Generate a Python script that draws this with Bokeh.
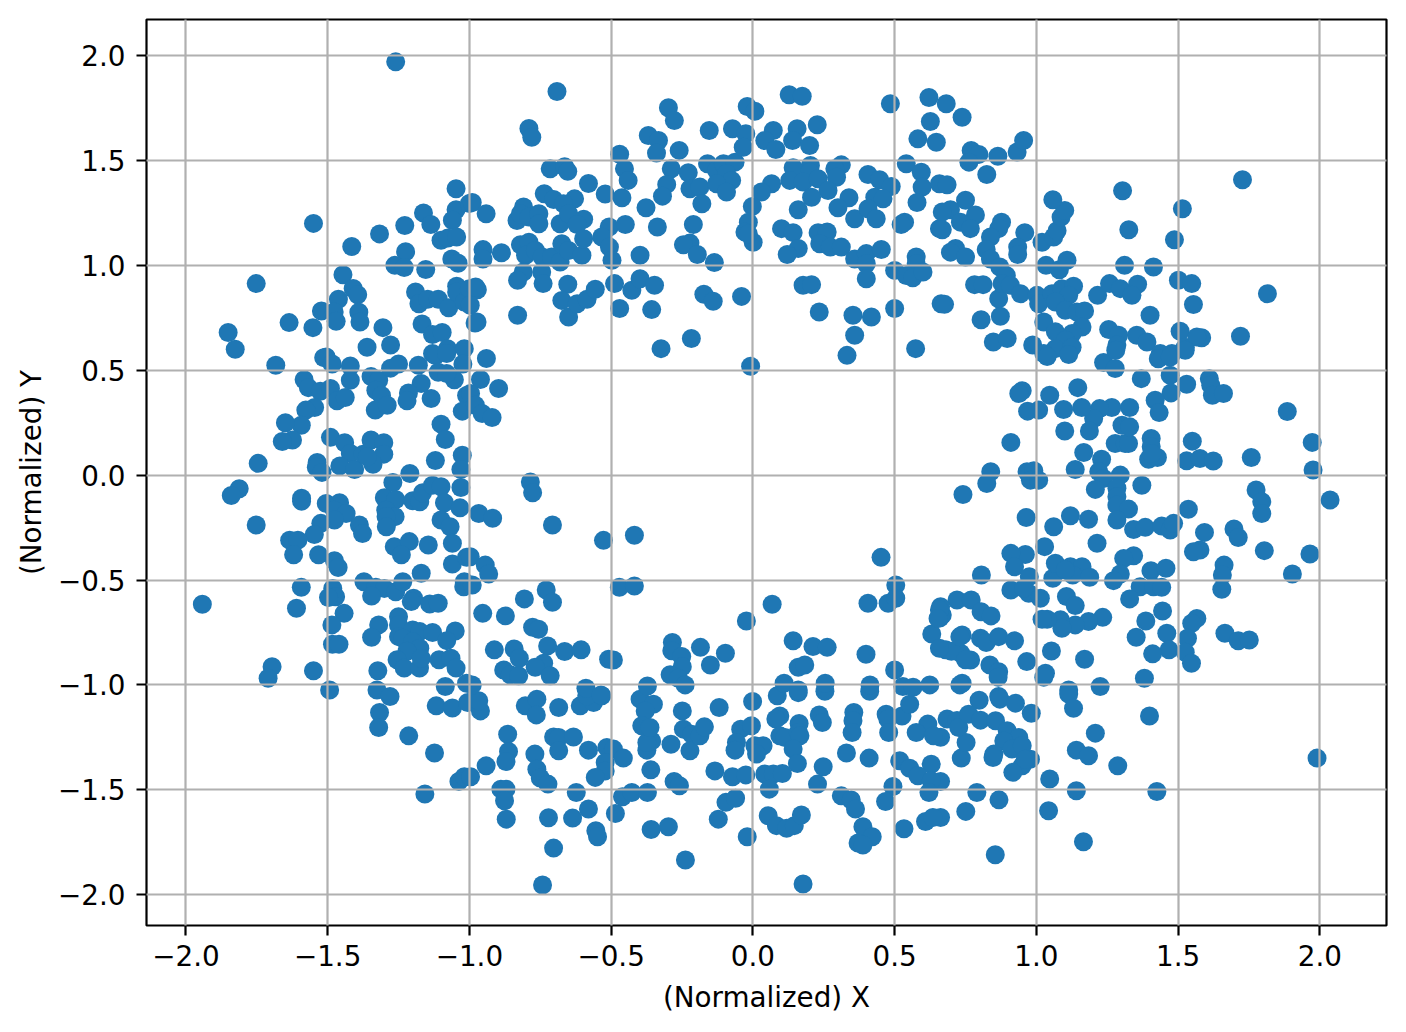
from bokeh.plotting import figure
from bokeh.embed import file_html
from bokeh.resources import INLINE
from bokeh.models import Range1d, FixedTicker

points_upper_left = [
(-1.26,1.97),(-1.55,1.20),(-1.415,1.09),(-1.317,1.15),(-1.228,1.19),(-1.162,1.25),(-1.136,1.195),(-1.047,1.365),(-1.047,1.265),(-1.0,1.295),
(-1.06,1.215),(-1.1,1.12),(-1.076,1.13),(-1.045,1.135),(-1.225,1.065),(-1.263,1.0),(-1.23,0.99),(-1.154,0.98),(-1.062,1.03),(-1.04,1.01),
(-1.752,0.913),(-1.446,0.955),(-1.41,0.89),(-1.394,0.86),(-1.462,0.838),(-1.522,0.782),(-1.477,0.778),(-1.47,0.733),(-1.39,0.776),(-1.386,0.73),
(-1.636,0.727),(-1.552,0.703),(-1.305,0.703),(-1.851,0.68),(-1.826,0.60),(-1.505,0.563),(-1.361,0.61),(-1.278,0.62),(-1.19,0.873),(-1.178,0.817),
(-1.147,0.838),(-1.11,0.838),(-1.073,0.798),(-1.045,0.90),(-1.045,0.873),(-1.018,0.825),(-1.0,0.889),(-1.167,0.72),(-1.13,0.67),(-1.096,0.68),
(-1.077,0.603),(-1.018,0.603),(-1.13,0.58),(-0.98,0.725),(-1.683,0.524),(-1.514,0.56),(-1.484,0.53),(-1.42,0.52),(-1.42,0.452),(-1.583,0.455),
(-1.568,0.417),(-1.526,0.40),(-1.49,0.413),(-1.467,0.354),(-1.438,0.37),(-1.347,0.47),(-1.32,0.452),(-1.33,0.405),(-1.31,0.38),(-1.332,0.31),
(-1.29,0.333),(-1.278,0.51),(-1.25,0.53),(-1.18,0.524),(-1.12,0.57),(-1.08,0.58),(-1.023,0.53),(-1.11,0.49),(-1.053,0.455),(-1.08,0.484),
(-1.17,0.437),(-1.215,0.392),(-1.22,0.354),(-1.135,0.365),(-1.01,0.38),(-1.025,0.305),(-1.546,0.322),(-1.577,0.31),(-1.593,0.238),(-1.649,0.25),
(-1.624,0.167),(-1.66,0.16),(-1.745,0.056),(-1.537,0.06),(-1.54,0.037),(-1.52,0.013),(-1.49,0.18),(-1.44,0.154),(-1.42,0.103),(-1.457,0.044),
(-1.405,0.027),(-1.375,0.10),(-1.347,0.167),(-1.302,0.154),(-1.302,0.10),(-1.34,0.052),(-1.36,0.087),(-1.21,0.008),(-1.12,0.07),(-1.1,0.243),
(-1.085,0.17),(-1.025,0.095),(-1.03,0.027),
]
points_lower_left = [
(-1.27,-0.035),(-1.3,-0.108),(-1.26,-0.116),(-1.295,-0.167),(-1.262,-0.198),(-1.294,-0.198),(-1.293,-0.246),(-1.2,-0.122),(-1.175,-0.127),(-1.165,-0.084),
(-1.13,-0.048),(-1.1,-0.055),(-1.03,-0.059),(-1.088,-0.132),(-1.033,-0.156),(-1.1,-0.214),(-1.068,-0.246),(-1.06,-0.325),(-1.592,-0.11),(-1.592,-0.124),
(-1.812,-0.065),(-1.84,-0.097),(-1.752,-0.238),(-1.505,-0.135),(-1.458,-0.132),(-1.476,-0.167),(-1.435,-0.183),(-1.476,-0.214),(-1.524,-0.23),(-1.388,-0.238),
(-1.377,-0.278),(-1.547,-0.283),(-1.634,-0.31),(-1.605,-0.31),(-1.62,-0.38),(-1.532,-0.38),(-1.476,-0.408),(-1.463,-0.44),(-1.265,-0.341),(-1.212,-0.317),
(-1.24,-0.38),(-1.145,-0.333),(-1.17,-0.468),(-1.06,-0.424),(-1.01,-0.392),(-1.372,-0.508),(-1.33,-0.535),(-1.3,-0.54),(-1.26,-0.556),(-1.345,-0.576),
(-1.235,-0.508),(-1.482,-0.54),(-1.472,-0.58),(-1.497,-0.583),(-1.593,-0.535),(-1.61,-0.635),(-1.942,-0.616),(-1.442,-0.659),(-1.485,-0.714),(-1.483,-0.806),
(-1.46,-0.806),(-1.197,-0.587),(-1.205,-0.603),(-1.14,-0.614),(-1.11,-0.611),(-1.018,-0.508),(-1.02,-0.532),(-1.25,-0.675),(-1.32,-0.714),(-1.345,-0.773),
(-1.25,-0.714),(-1.25,-0.77),(-1.2,-0.738),(-1.175,-0.746),(-1.13,-0.75),(-1.05,-0.743),(-1.08,-0.789),(-1.235,-0.778),(-1.2,-0.794),(-1.175,-0.825),
(-1.22,-0.84),(-1.255,-0.88),(-1.23,-0.92),(-1.176,-0.92),(-1.17,-0.873),(-1.107,-0.88),(-1.065,-0.873),(-1.047,-0.92),(-1.323,-0.933),(-1.55,-0.933),
(-1.696,-0.913),(-1.71,-0.968),(-1.493,-1.024),(-1.326,-1.024),(-1.28,-1.055),(-1.085,-1.008),(-1.01,-0.992),(-1.317,-1.132),(-1.32,-1.203),(-1.214,-1.243),
(-1.123,-1.325),(-1.117,-1.1),(-1.06,-1.11),(-1.006,-1.084),(-1.157,-1.52),(-1.037,-1.46),(-1.018,-1.438),
]
points_top = [
(-0.691,1.829),(-0.79,1.652),(-0.78,1.611),(-0.715,1.46),(-0.664,1.47),(-0.653,1.448),(-0.58,1.39),(-0.521,1.34),(-0.47,1.53),(-0.453,1.46),
(-0.44,1.405),(-0.462,1.322),(-0.99,1.30),(-0.941,1.246),(-0.809,1.278),(-0.736,1.341),(-0.703,1.314),(-0.629,1.317),(-0.668,1.294),(-0.832,1.214),
(-0.82,1.246),(-0.79,1.23),(-0.755,1.246),(-0.755,1.198),(-0.68,1.198),(-0.65,1.246),(-0.597,1.22),(-0.62,1.195),(-0.507,1.183),(-0.45,1.195),
(-0.377,1.275),(-0.337,1.183),(-0.298,1.751),(-0.277,1.69),(-0.369,1.619),(-0.333,1.595),(-0.26,1.548),(-0.34,1.535),(-0.288,1.46),(-0.228,1.441),
(-0.304,1.386),(-0.319,1.33),(-0.222,1.365),(-0.187,1.373),(-0.18,1.294),(-0.21,1.195),(-0.222,1.106),(-0.245,1.098),(-0.196,1.052),(-0.136,1.013),
(-0.154,1.643),(-0.16,1.484),(-0.128,1.452),(-0.104,1.484),(-0.063,1.492),(-0.093,1.437),(-0.075,1.405),(-0.128,1.389),(-0.093,1.35),(-0.072,1.651),
(-0.025,1.627),(-0.034,1.563),(-0.02,1.757),(0.007,1.735),(0.128,1.813),(0.174,1.806),(0.227,1.67),(0.156,1.651),(0.14,1.595),(0.072,1.643),
(0.042,1.595),(0.081,1.552),(0.2,1.571),(0.142,1.465),(0.203,1.476),(0.2,1.444),(0.312,1.479),(0.289,1.46),(0.13,1.405),(0.177,1.397),
(0.23,1.413),(0.295,1.42),(0.265,1.357),(0.207,1.325),(0.066,1.389),(0.03,1.35),(-0.002,1.281),(0.16,1.265),(-0.016,1.206),(-0.028,1.159),
(0.001,1.11),(-0.016,1.15),(0.101,1.175),(0.142,1.156),(0.16,1.08),(0.121,1.052),(0.23,1.156),(0.262,1.159),(0.236,1.103),(0.273,1.087),
(0.312,1.087),(0.177,0.905),(0.207,0.908),(0.234,0.778),(-0.04,0.852),(-0.173,0.862),(-0.14,0.829),(0.339,1.322),(0.406,1.433),(0.447,1.408),
(0.488,1.376),(0.3,1.275),(0.359,1.222),(0.43,1.325),(0.459,1.317),(0.406,1.27),(0.435,1.222),(0.485,1.77),(0.541,1.484),(0.594,1.444),
(0.597,1.373),(0.579,1.30),(0.535,1.206),(0.523,1.195),(0.621,1.80),(0.626,1.686),(0.582,1.603),(0.647,1.587),(0.658,1.389),(0.359,1.03),
(0.4,1.056),(0.453,1.076),(0.4,1.008),(0.4,0.936),(0.353,0.762),(0.418,0.754),(0.359,0.667),(0.5,0.794),(0.5,0.976),(0.576,1.04),
(0.576,1.008),(0.541,0.952),(0.564,0.941),(0.6,0.968),(0.332,0.571),(0.574,0.603),(-0.217,0.651),(-0.324,0.603),(0.664,0.817),(0.658,1.175),
(-0.952,1.075),(-0.952,1.03),(-0.887,1.06),(-0.82,1.098),(-0.79,1.11),(-0.802,1.048),(-0.767,1.071),(-0.743,1.04),(-0.81,0.968),(-0.83,0.929),
(-0.745,0.968),(-0.74,0.913),(-0.71,1.04),(-0.68,1.016),(-0.674,1.103),(-0.65,1.071),(-0.603,1.048),(-0.597,1.127),(-0.533,1.135),(-0.506,1.087),
(-0.497,1.024),(-0.398,1.048),(-0.653,0.91),(-0.674,0.833),(-0.65,0.754),(-0.62,0.817),(-0.585,0.838),(-0.556,0.886),(-0.83,0.762),(-0.488,0.913),
(-0.427,0.881),(-0.398,0.936),(-0.347,0.905),(-0.47,0.794),(-0.357,0.789),(-0.972,0.884),(-0.978,0.897),(-0.997,0.81),(-0.973,0.73),(-0.94,0.556),
(-0.961,0.456),(-0.897,0.413),(-0.996,0.389),(-0.979,0.333),(-0.955,0.294),(-0.92,0.275),(-0.008,0.519),
]
points_upper_right = [
(0.682,1.77),(0.738,1.706),(0.77,1.548),(0.797,1.529),(0.762,1.492),(0.864,1.52),(0.932,1.54),(0.955,1.595),(0.825,1.433),(0.685,1.384),
(0.75,1.31),(0.697,1.265),(0.668,1.254),(0.785,1.24),(0.732,1.206),(0.767,1.175),(0.668,1.17),(0.877,1.206),(0.867,1.175),(0.838,1.135),
(0.959,1.156),(0.934,1.087),(0.934,1.052),(0.823,1.075),(0.715,1.08),(0.697,1.063),(0.75,1.04),(0.838,1.03),(0.871,0.992),(0.894,0.952),
(1.02,1.11),(1.061,1.135),(1.073,1.165),(1.087,1.23),(1.1,1.262),(1.058,1.313),(1.034,1.0),(1.081,0.979),(1.108,1.024),(0.782,0.908),
(0.812,0.908),(0.867,0.841),(0.676,0.814),(0.873,0.757),(0.805,0.741),(0.848,0.635),(0.897,0.651),(0.987,0.62),(0.879,0.913),(0.908,0.905),
(0.944,0.865),(1.002,0.857),(1.008,0.817),(1.055,0.865),(1.09,0.889),(1.131,0.9),(1.114,0.857),(1.067,0.825),(1.102,0.786),(1.143,0.778),
(1.17,0.782),(1.026,0.73),(1.067,0.683),(1.161,0.706),(1.126,0.675),(1.102,0.643),(1.067,0.603),(1.126,0.61),(1.026,0.58),(1.216,0.857),
(1.258,0.913),(1.296,0.889),(1.357,0.91),(1.337,0.857),(1.311,1.0),(1.413,0.992),(1.304,1.356),(1.326,1.17),(1.401,0.762),(1.255,0.694),
(1.29,0.667),(1.354,0.667),(1.39,0.635),(1.284,0.62),(1.507,0.686),(1.525,0.61),(1.478,0.58),(1.437,0.58),(1.501,0.929),(1.548,0.913),
(1.554,0.813),(1.515,1.27),(1.487,1.122),(1.727,1.408),(1.815,0.865),(1.72,0.662),(1.583,0.655),(1.566,0.659),(1.237,0.537),(1.278,0.508),
(1.28,0.595),(1.37,0.46),(1.43,0.555),(1.472,0.563),(1.525,0.595),(1.472,0.476),(1.53,0.433),(1.475,0.392),(1.419,0.357),(1.433,0.298),
(1.61,0.46),(1.615,0.429),(1.621,0.381),(1.66,0.389),(1.885,0.303),(1.973,0.156),(1.976,0.024),(1.758,0.084),(1.55,0.162),(1.53,0.068),
(1.577,0.079),(1.624,0.067),(1.405,0.175),(1.405,0.135),(1.396,0.076),(1.427,0.084),(1.407,0.103),(1.278,0.151),(1.313,0.151),(1.325,0.151),
(1.302,0.238),(1.329,0.23),(1.329,0.322),(1.266,0.322),(1.223,0.317),(1.202,0.27),(1.187,0.21),(1.16,0.322),(1.1,0.21),(1.096,0.313),
(1.146,0.417),(1.047,0.381),(0.95,0.402),(0.938,0.389),(1.008,0.31),(0.969,0.305),(0.91,0.156),(0.839,0.016),(0.967,0.016),(0.991,0.021),
(1.137,0.027),(1.167,0.108),(1.23,0.076),(1.22,0.016),(1.296,0.0),(1.038,0.565),(1.114,0.575),
]
points_lower_right = [
(2.036,-0.119),(0.825,-0.04),(0.741,-0.092),(0.979,-0.024),(1.008,-0.024),(1.237,-0.016),(1.208,-0.068),(1.284,-0.063),(1.372,-0.048),(1.284,-0.103),
(1.284,-0.143),(1.325,-0.162),(1.284,-0.214),(1.536,-0.163),(0.964,-0.202),(1.061,-0.246),(1.12,-0.194),(1.184,-0.21),(1.343,-0.259),(1.384,-0.249),
(1.442,-0.243),(1.472,-0.262),(1.484,-0.23),(1.593,-0.273),(1.697,-0.257),(1.712,-0.297),(1.775,-0.071),(1.795,-0.127),(1.795,-0.183),(1.804,-0.36),
(1.965,-0.376),(1.903,-0.471),(1.577,-0.357),(1.554,-0.365),(1.662,-0.429),(1.656,-0.476),(1.654,-0.544),(1.214,-0.325),(1.343,-0.384),(1.308,-0.397),
(1.296,-0.471),(1.272,-0.503),(1.404,-0.456),(1.457,-0.444),(1.366,-0.532),(1.413,-0.532),(1.442,-0.535),(1.329,-0.59),(1.029,-0.341),(0.961,-0.378),
(0.91,-0.373),(0.923,-0.437),(0.806,-0.476),(0.975,-0.484),(1.058,-0.492),(1.067,-0.42),(1.12,-0.437),(1.161,-0.437),(1.128,-0.476),(1.102,-0.452),
(1.188,-0.487),(0.91,-0.548),(0.973,-0.563),(1.014,-0.587),(0.955,-0.54),(1.106,-0.579),(1.137,-0.622),(1.234,-0.678),(1.184,-0.698),(1.137,-0.714),
(1.085,-0.69),(1.09,-0.73),(1.038,-0.687),(1.02,-0.687),(1.445,-0.648),(1.386,-0.695),(1.566,-0.683),(1.548,-0.706),(1.46,-0.754),(1.533,-0.778),
(1.352,-0.773),(1.665,-0.754),(1.712,-0.79),(1.751,-0.786),(1.468,-0.833),(1.41,-0.852),(1.525,-0.844),(1.547,-0.897),(0.72,-0.595),(0.77,-0.595),
(0.805,-0.651),(0.84,-0.671),(0.668,-0.667),(0.662,-0.627),(0.738,-0.762),(0.803,-0.778),(0.823,-0.798),(0.867,-0.77),(0.923,-0.79),(0.68,-0.833),
(0.733,-0.849),(0.768,-0.881),(0.836,-0.905),(0.867,-0.937),(0.865,-0.963),(0.966,-0.889),(1.053,-0.838),(1.17,-0.878),(1.032,-0.944),(1.026,-0.963),
(1.381,-0.968),(0.738,-0.992),(1.225,-1.008),(1.114,-1.024),(0.867,-1.055),(0.798,-1.073),(0.871,-1.068),(0.926,-1.087),(0.982,-1.135),(1.114,-1.044),
(1.131,-1.111),(1.399,-1.148),(1.208,-1.23),(1.141,-1.311),(1.184,-1.338),(1.287,-1.386),(1.047,-1.449),(1.141,-1.505),(1.425,-1.508),(1.99,-1.349),
(1.043,-1.6),(1.166,-1.748),(0.855,-1.81),(0.79,-1.513),(0.868,-1.548),(0.751,-1.603),(0.662,-1.632),(0.662,-1.46),(0.735,-1.349),(0.662,-1.25),
(0.752,-1.275),(0.685,-1.163),(0.72,-1.17),(0.726,-1.203),(0.761,-1.14),(0.803,-1.168),(0.856,-1.171),(0.897,-1.219),(0.938,-1.251),(0.885,-1.267),
(0.914,-1.306),(0.95,-1.29),(0.979,-1.354),(0.95,-1.386),(0.917,-1.417),(0.961,-1.354),(0.85,-1.33),(0.847,-1.346),(0.7,-0.84),(0.66,-0.68),
(0.75,-0.88),(0.73,-1.0),(0.73,-0.77),
]
points_bottom = [
(-0.961,-1.124),(-0.967,-1.076),(-0.803,-1.1),(-0.762,-1.068),(-0.764,-1.143),(-0.685,-1.108),(-0.609,-1.1),(-0.562,-1.084),(-0.533,-1.052),(-0.586,-1.052),
(-0.398,-1.068),(-0.351,-1.092),(-0.38,-1.124),(-0.249,-1.124),(-0.119,-1.108),(-0.001,-1.079),(0.086,-1.052),(0.16,-1.037),(0.254,-1.03),(0.412,-1.03),
(0.234,-1.143),(0.245,-1.179),(0.095,-1.148),(0.081,-1.163),(0.163,-1.184),(0.356,-1.132),(0.353,-1.171),(0.35,-1.227),(0.47,-1.14),(0.476,-1.163),
(0.479,-1.227),(0.526,-1.148),(0.553,-1.092),(0.617,-1.187),(0.576,-1.227),(0.637,-1.243),(0.518,-1.362),(0.553,-1.397),(0.629,-1.378),(0.582,-1.433),
(0.494,-1.484),(0.468,-1.556),(0.629,-1.457),(0.621,-1.513),(0.533,-1.686),(0.609,-1.651),(0.635,-1.632),(-0.865,-1.235),(-0.862,-1.317),(-0.871,-1.365),
(-0.941,-1.386),(-0.996,-1.438),(-0.889,-1.497),(-0.871,-1.497),(-0.876,-1.552),(-0.87,-1.64),(-0.769,-1.33),(-0.762,-1.402),(-0.75,-1.444),(-0.723,-1.473),
(-0.703,-1.248),(-0.685,-1.251),(-0.685,-1.314),(-0.633,-1.248),(-0.58,-1.311),(-0.515,-1.298),(-0.492,-1.306),(-0.457,-1.349),(-0.521,-1.37),(-0.521,-1.41),
(-0.556,-1.441),(-0.623,-1.513),(-0.58,-1.592),(-0.636,-1.635),(-0.721,-1.633),(-0.703,-1.778),(-0.742,-1.954),(-0.554,-1.695),(-0.548,-1.724),(-0.485,-1.613),
(-0.46,-1.533),(-0.427,-1.513),(-0.372,-1.513),(-0.359,-1.689),(-0.298,-1.676),(-0.238,-1.835),(-0.278,-1.46),(-0.259,-1.481),(-0.36,-1.405),(-0.374,-1.311),
(-0.357,-1.267),(-0.374,-1.275),(-0.289,-1.283),(-0.392,-1.195),(-0.363,-1.203),(-0.245,-1.211),(-0.216,-1.235),(-0.222,-1.314),(-0.187,-1.243),(-0.171,-1.2),
(-0.134,-1.41),(-0.072,-1.438),(-0.025,-1.429),(-0.095,-1.56),(-0.061,-1.54),(-0.122,-1.64),(-0.02,-1.724),(-0.043,-1.211),(-0.005,-1.195),(-0.058,-1.275),
(-0.063,-1.311),(0.007,-1.29),(0.036,-1.29),(0.013,-1.33),(0.095,-1.243),(0.113,-1.251),(0.16,-1.227),(0.166,-1.243),(0.142,-1.306),(0.157,-1.375),
(0.042,-1.425),(0.072,-1.425),(0.104,-1.422),(0.058,-1.497),(0.054,-1.624),(0.083,-1.671),(0.119,-1.683),(0.146,-1.671),(0.171,-1.62),(0.177,-1.949),
(0.248,-1.39),(0.228,-1.473),(0.33,-1.325),(0.41,-1.349),(0.312,-1.529),(0.347,-1.549),(0.362,-1.592),(0.388,-1.676),(0.421,-1.724),(0.371,-1.754),
(0.388,-1.763),
]
points_inner_lower = [
(-0.785,-0.033),(-0.777,-0.084),(-0.967,-0.183),(-0.918,-0.206),(-0.707,-0.238),(-0.527,-0.311),(-0.418,-0.287),(0.452,-0.392),(-0.997,-0.389),(-0.944,-0.429),
(-0.932,-0.471),(-0.99,-0.524),(-0.471,-0.535),(-0.418,-0.529),(-0.729,-0.548),(-0.707,-0.606),(-0.806,-0.59),(-0.953,-0.659),(-0.873,-0.671),(-0.777,-0.725),
(-0.756,-0.735),(-0.912,-0.833),(-0.842,-0.829),(-0.824,-0.873),(-0.724,-0.814),(-0.664,-0.841),(-0.606,-0.833),(-0.509,-0.878),(-0.492,-0.881),(-0.738,-0.897),
(-0.768,-0.916),(-0.879,-0.929),(-0.856,-0.952),(-0.826,-0.957),(-0.715,-0.956),(-0.99,-1.0),(-0.589,-1.016),(-0.536,-1.048),(-0.372,-1.005),(-0.284,-0.798),
(-0.286,-0.837),(-0.251,-0.865),(-0.249,-0.913),(-0.292,-0.952),(-0.263,-0.968),(-0.239,-1.0),(-0.185,-0.821),(-0.097,-0.849),(-0.15,-0.905),(-0.023,-0.695),
(0.068,-0.616),(0.142,-0.79),(0.212,-0.817),(0.262,-0.821),(0.16,-0.916),(0.183,-0.905),(0.11,-0.992),(0.16,-1.024),(0.255,-0.992),(0.399,-0.854),
(0.413,-1.0),(0.5,-0.929),(0.529,-1.008),(0.565,-1.011),(0.624,-1.0),(0.406,-0.611),(0.477,-0.611),(0.504,-0.524),(0.504,-0.587),(0.631,-0.757),
(0.658,-0.643),(0.653,-0.683),(0.658,-0.825),
]
tick_values = [-2.0, -1.5, -1.0, -0.5, 0.0, 0.5, 1.0, 1.5, 2.0]
tick_labels = ["\u22122.0", "\u22121.5", "\u22121.0", "\u22120.5", "0.0", "0.5", "1.0", "1.5", "2.0"]
x_label = "(Normalized) X"
y_label = "(Normalized) Y"

all_points = (points_upper_left + points_lower_left + points_top + points_upper_right
              + points_lower_right + points_bottom + points_inner_lower)
xs = [a for a, b in all_points]
ys = [b for a, b in all_points]

p = figure(width=1398, height=1024, output_backend="svg", toolbar_location=None,
           x_range=Range1d(-2.139, 2.235), y_range=Range1d(-2.147, 2.172),
           min_border_left=146, min_border_right=12, min_border_top=19, min_border_bottom=99)
p.frame_width = 1240
p.frame_height = 906
p.background_fill_color = "white"
p.outline_line_color = "black"
p.outline_line_width = 2.2
p.outline_line_alpha = 1

p.scatter(xs, ys, size=19, fill_color="#1f77b4", line_color=None, marker="circle")

overrides = dict(zip(tick_values, tick_labels))
for ax, lab in ((p.xaxis[0], x_label), (p.yaxis[0], y_label)):
    ax.ticker = FixedTicker(ticks=tick_values)
    ax.major_label_overrides = overrides
    ax.minor_tick_line_color = None
    ax.major_tick_in = 0
    ax.major_tick_out = 10
    ax.major_tick_line_width = 2.2
    ax.major_tick_line_color = "black"
    ax.axis_line_color = None
    ax.major_label_text_font = "DejaVu Sans"
    ax.major_label_text_font_size = "27.8px"
    ax.major_label_text_color = "black"
    ax.axis_label = lab
    ax.axis_label_text_font = "DejaVu Sans"
    ax.axis_label_text_font_size = "27.8px"
    ax.axis_label_text_font_style = "normal"
    ax.axis_label_text_color = "black"
p.xaxis[0].major_label_standoff = 9
p.xaxis[0].axis_label_standoff = 12
p.yaxis[0].major_label_standoff = 11
p.yaxis[0].axis_label_standoff = 7
p.yaxis[0].major_label_orientation = "horizontal"

for g in (p.xgrid[0], p.ygrid[0]):
    g.grid_line_color = "#b0b0b0"
    g.grid_line_width = 2.2
    g.level = "annotation"
    g.ticker = FixedTicker(ticks=tick_values)

open("out.html", "w").write(file_html(p, INLINE))
